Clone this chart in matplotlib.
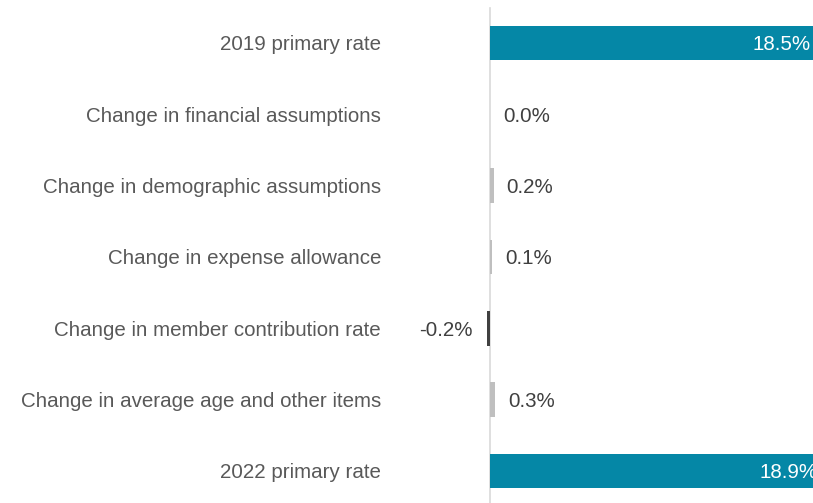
import matplotlib
matplotlib.use('Agg')
import matplotlib.pyplot as plt

categories = ['2019 primary rate',
              'Change in financial assumptions',
              'Change in demographic assumptions',
              'Change in expense allowance',
              'Change in member contribution rate',
              'Change in average age and other items',
              '2022 primary rate']
values = [18.5, 0.0, 0.2, 0.1, -0.2, 0.3, 18.9]
labels = ['18.5%', '0.0%', '0.2%', '0.1%', '-0.2%', '0.3%', '18.9%']

teal = '#0587A6'
colors = []
for i, v in enumerate(values):
    if i == 0 or i == len(values) - 1:
        colors.append(teal)
    elif v < 0:
        colors.append('#404040')
    else:
        colors.append('#BFBFBF')

plt.rcParams['font.family'] = ['Liberation Sans', 'DejaVu Sans']
fs = 14.8

fig = plt.figure(figsize=(8.13, 5.03), dpi=100)
ax = fig.add_axes([0, 0, 1, 1])

px = 17.5  # pixels per percent
zero = 490
ax.set_xlim(-zero / px, (813 - zero) / px)
ax.set_ylim((503 - 43) / 71.33, -43 / 71.33)

y = list(range(len(categories)))
ax.barh(y, values, height=0.49, color=colors, zorder=2)
ax.plot([0, 0], [-0.49, 6.6], color='#D9D9D9', lw=1.2, zorder=1)

dy = 2 / 71.33  # nudge text down a touch
for i, v in enumerate(values):
    if i == 0 or i == len(values) - 1:
        ax.text(v - 3 / px, i + dy, labels[i], ha='right', va='center',
                color='white', fontsize=fs)
    elif v < 0:
        ax.text(v - 14 / px, i + dy, labels[i], ha='right', va='center',
                color='#404040', fontsize=fs)
    else:
        ax.text(v + 13 / px, i + dy, labels[i], ha='left', va='center',
                color='#404040', fontsize=fs)
    ax.text((381 - zero) / px, i + dy, categories[i], ha='right', va='center',
            color='#595959', fontsize=fs)

ax.axis('off')
fig.savefig('out.png', dpi=100)
